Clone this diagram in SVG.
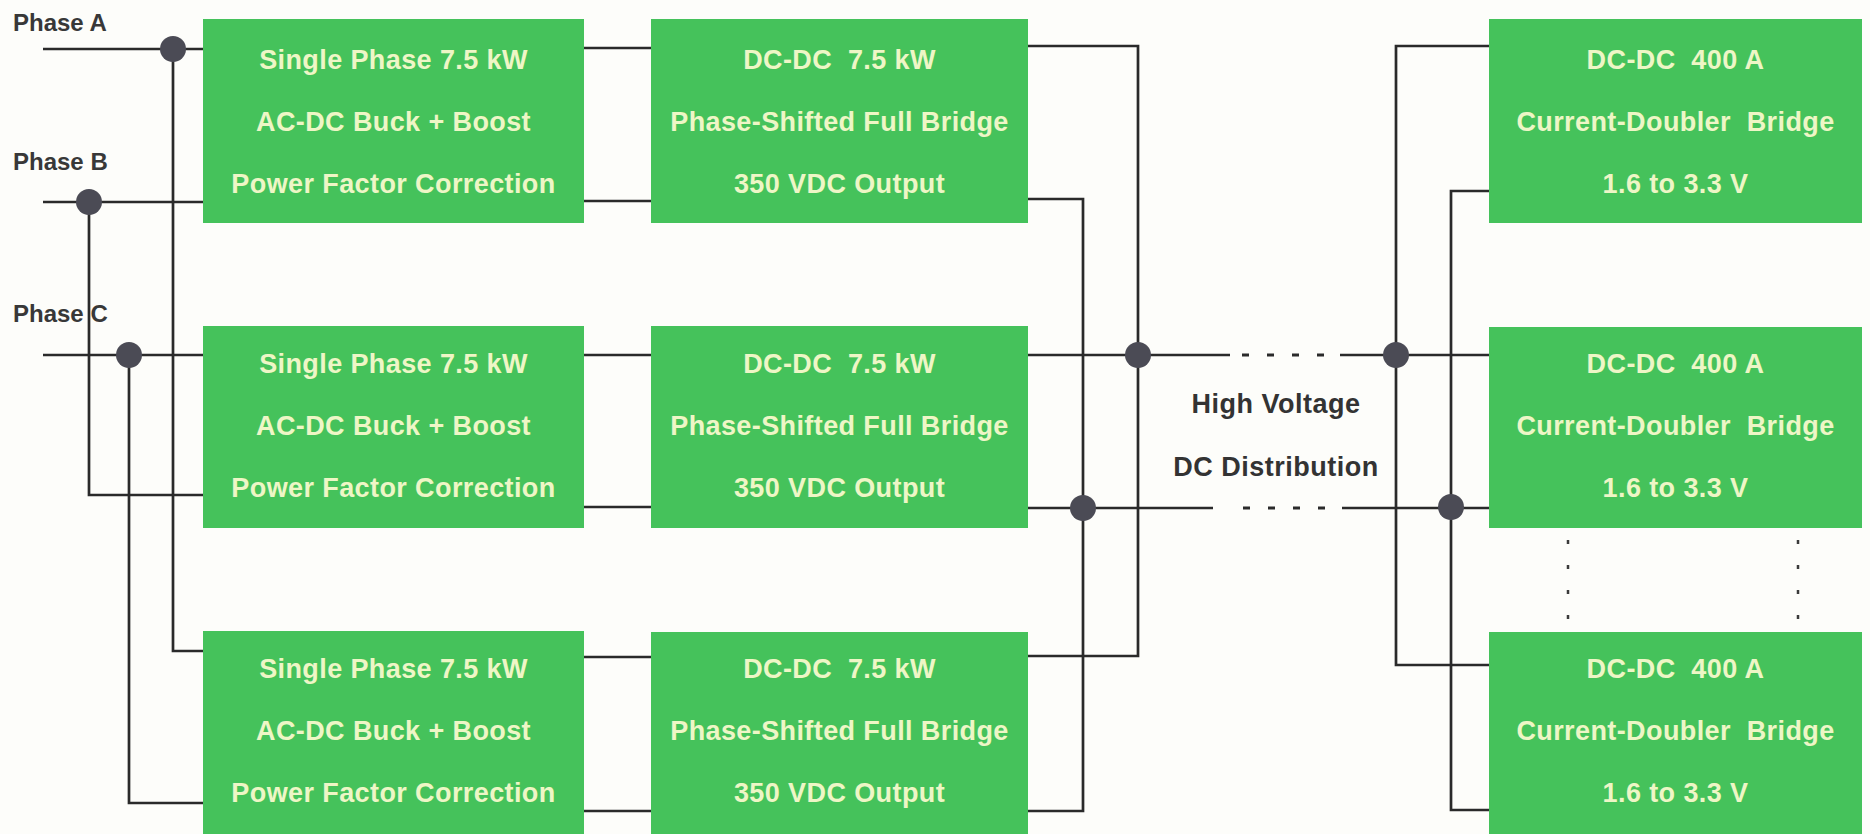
<svg xmlns="http://www.w3.org/2000/svg" width="1870" height="834" viewBox="0 0 1870 834">
<style>
.bg{fill:#fdfdfa}
.box{fill:#45c25b}
.bt{font-family:"Liberation Sans",Arial,sans-serif;font-weight:bold;font-size:27px;letter-spacing:0.4px;fill:#eef6c6;text-anchor:middle}
.lbl{font-family:"Liberation Sans",Arial,sans-serif;font-weight:bold;font-size:24px;fill:#383838}
.hv{font-family:"Liberation Sans",Arial,sans-serif;font-weight:bold;font-size:27px;letter-spacing:0.5px;fill:#333;text-anchor:middle}
.w{fill:none;stroke:#2a2a2a;stroke-width:2.7}
.dash{fill:none;stroke:#2a2a2a;stroke-width:3;stroke-dasharray:7 18}
.vdot{fill:none;stroke:#3a3a3a;stroke-width:2.5;stroke-dasharray:4 21}
.j{fill:#4b4b55}
</style>
<rect class="bg" x="0" y="0" width="1870" height="834"/>

<g id="labels">
<text class="lbl" x="13" y="31">Phase A</text>
<text class="lbl" x="13" y="170">Phase B</text>
<text class="lbl" x="13" y="322">Phase C</text>
<text class="hv" x="1276" y="413">High Voltage</text>
<text class="hv" x="1276" y="476">DC Distribution</text>
</g>

<g id="connectors">
<path class="w" d="M43 49 H203"/>
<path class="w" d="M43 202 H203"/>
<path class="w" d="M43 355 H203"/>
<path class="w" d="M173 49 V651 H203"/>
<path class="w" d="M89 202 V495 H203"/>
<path class="w" d="M129 355 V803 H203"/>
<path class="w" d="M584 48 H651"/>
<path class="w" d="M584 201 H651"/>
<path class="w" d="M584 355 H651"/>
<path class="w" d="M584 507 H651"/>
<path class="w" d="M584 657 H651"/>
<path class="w" d="M584 811 H651"/>
<path class="w" d="M1028 46 H1138 V656 H1028"/>
<path class="w" d="M1028 199 H1083 V811 H1028"/>
<path class="w" d="M1028 355 H1230"/>
<path class="dash" d="M1242 355 H1330"/>
<path class="w" d="M1340 355 H1489"/>
<path class="w" d="M1028 508 H1213"/>
<path class="dash" d="M1243 508 H1330"/>
<path class="w" d="M1342 508 H1489"/>
<path class="w" d="M1489 46 H1396 V665 H1489"/>
<path class="w" d="M1489 191 H1451 V810 H1489"/>
<path class="vdot" d="M1568 540 V620"/>
<path class="vdot" d="M1798 540 V620"/>
<circle class="j" cx="173" cy="49" r="13"/>
<circle class="j" cx="89" cy="202" r="13"/>
<circle class="j" cx="129" cy="355" r="13"/>
<circle class="j" cx="1138" cy="355" r="13"/>
<circle class="j" cx="1083" cy="508" r="13"/>
<circle class="j" cx="1396" cy="355" r="13"/>
<circle class="j" cx="1451" cy="507" r="13"/>
</g>

<g id="acdc1">
<rect class="box" x="203" y="19" width="381" height="204"/>
<text class="bt" x="393.5" y="69">Single Phase 7.5 kW</text>
<text class="bt" x="393.5" y="131">AC-DC Buck + Boost</text>
<text class="bt" x="393.5" y="193">Power Factor Correction</text>
</g>
<g id="acdc2">
<rect class="box" x="203" y="326" width="381" height="202"/>
<text class="bt" x="393.5" y="373">Single Phase 7.5 kW</text>
<text class="bt" x="393.5" y="435">AC-DC Buck + Boost</text>
<text class="bt" x="393.5" y="497">Power Factor Correction</text>
</g>
<g id="acdc3">
<rect class="box" x="203" y="631" width="381" height="210"/>
<text class="bt" x="393.5" y="678">Single Phase 7.5 kW</text>
<text class="bt" x="393.5" y="740">AC-DC Buck + Boost</text>
<text class="bt" x="393.5" y="802">Power Factor Correction</text>
</g>

<g id="dcdc1">
<rect class="box" x="651" y="19" width="377" height="204"/>
<text class="bt" x="839.5" y="69" xml:space="preserve">DC-DC  7.5 kW</text>
<text class="bt" x="839.5" y="131">Phase-Shifted Full Bridge</text>
<text class="bt" x="839.5" y="193">350 VDC Output</text>
</g>
<g id="dcdc2">
<rect class="box" x="651" y="326" width="377" height="202"/>
<text class="bt" x="839.5" y="373" xml:space="preserve">DC-DC  7.5 kW</text>
<text class="bt" x="839.5" y="435">Phase-Shifted Full Bridge</text>
<text class="bt" x="839.5" y="497">350 VDC Output</text>
</g>
<g id="dcdc3">
<rect class="box" x="651" y="632" width="377" height="210"/>
<text class="bt" x="839.5" y="678" xml:space="preserve">DC-DC  7.5 kW</text>
<text class="bt" x="839.5" y="740">Phase-Shifted Full Bridge</text>
<text class="bt" x="839.5" y="802">350 VDC Output</text>
</g>

<g id="pol1">
<rect class="box" x="1489" y="19" width="373" height="204"/>
<text class="bt" x="1675.5" y="69" xml:space="preserve">DC-DC  400 A</text>
<text class="bt" x="1675.5" y="131" xml:space="preserve">Current-Doubler  Bridge</text>
<text class="bt" x="1675.5" y="193">1.6 to 3.3 V</text>
</g>
<g id="pol2">
<rect class="box" x="1489" y="327" width="373" height="201"/>
<text class="bt" x="1675.5" y="373" xml:space="preserve">DC-DC  400 A</text>
<text class="bt" x="1675.5" y="435" xml:space="preserve">Current-Doubler  Bridge</text>
<text class="bt" x="1675.5" y="497">1.6 to 3.3 V</text>
</g>
<g id="pol3">
<rect class="box" x="1489" y="632" width="373" height="210"/>
<text class="bt" x="1675.5" y="678" xml:space="preserve">DC-DC  400 A</text>
<text class="bt" x="1675.5" y="740" xml:space="preserve">Current-Doubler  Bridge</text>
<text class="bt" x="1675.5" y="802">1.6 to 3.3 V</text>
</g>
</svg>
